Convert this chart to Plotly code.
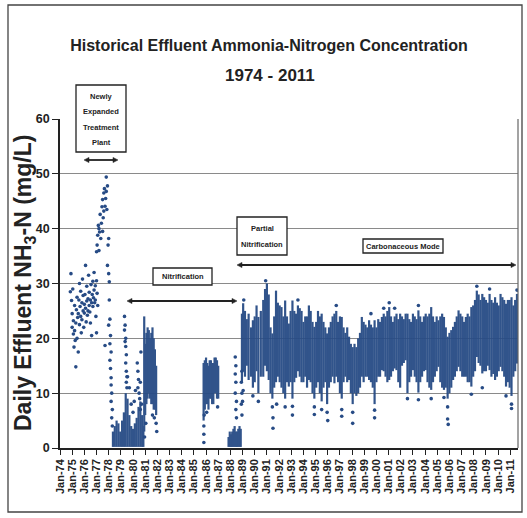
import plotly.graph_objects as go

# ---------------- data ----------------
# individual scattered daily points: decimal year, NH3-N (mg/L)
pt_t = [1974.85, 1974.9, 1974.95, 1975.0, 1975.0, 1975.05, 1975.1, 1975.1, 1975.15, 1975.2,
        1975.2, 1975.25, 1975.3, 1975.3, 1975.35, 1975.4, 1975.4, 1975.45, 1975.5, 1975.5,
        1975.55, 1975.6, 1975.6, 1975.65, 1975.7, 1975.7, 1975.75, 1975.8, 1975.8, 1975.85,
        1975.9, 1975.9, 1975.95, 1976.0, 1976.0, 1976.05, 1976.1, 1976.1, 1976.15, 1976.2,
        1976.2, 1976.25, 1976.3, 1976.3, 1976.35, 1976.4, 1976.4, 1976.45, 1976.5, 1976.5,
        1976.55, 1976.6, 1976.6, 1976.65, 1976.7, 1976.7, 1976.75, 1976.8, 1976.8, 1976.85,
        1976.9, 1976.9, 1976.95, 1977.0, 1977.0, 1977.05, 1977.1,
        1977.0, 1977.05, 1977.1, 1977.15, 1977.2, 1977.2, 1977.25, 1977.3, 1977.35, 1977.4,
        1977.45, 1977.5, 1977.5, 1977.55, 1977.6, 1977.6, 1977.65, 1977.7, 1977.75, 1977.8,
        1977.8, 1977.85, 1977.9, 1977.95, 1978.0, 1977.9, 1978.0, 1978.05,
        1978.05, 1978.1, 1978.0, 1978.15, 1978.1, 1978.2, 1978.1, 1977.7, 1978.15, 1978.2,
        1978.2, 1978.25, 1978.2, 1978.3, 1978.25, 1978.3,
        1979.3, 1979.35, 1979.3, 1979.4, 1979.35, 1979.4, 1979.45, 1979.4, 1979.45, 1979.5,
        1979.45, 1979.5, 1979.55, 1979.7, 1979.85, 1980.0, 1980.1, 1980.2,
        1980.35, 1980.4, 1980.45, 1980.4, 1980.5, 1980.55, 1980.6, 1980.65, 1980.7, 1980.6,
        1980.95, 1981.05, 1981.9, 1981.95, 1981.6, 1981.75,
        1985.82, 1985.82, 1985.82, 1985.85, 1986.05, 1986.95,
        1988.4, 1988.45, 1988.4, 1988.45, 1988.4, 1988.5, 1988.45, 1988.5,
        1988.95, 1988.9, 1988.95, 1988.9, 1988.95,
        1989.0, 1989.05, 1989.85, 1990.3, 1991.45, 1991.5, 1991.5, 1991.8, 1992.5, 1993.1,
        1993.1, 1994.9, 1994.9, 1995.5, 1995.95, 1996.0, 1997.15, 1997.15, 1998.05, 1998.05,
        1999.85, 1999.85, 2002.55, 2003.45, 2004.5, 2005.55, 2005.85, 2005.85, 2005.9, 2007.8,
        2008.7, 2010.65, 2011.1, 2011.1,
        1989.1, 1990.9, 1993.55, 1996.7, 1999.55, 2000.6, 2001.05, 2001.5, 2003.45, 2008.25,
        2009.3, 2011.55]
pt_v = [28.5, 31.8, 26.9, 24.5, 22.0, 29.0, 20.8, 23.2, 18.4, 21.4,
        26.0, 19.6, 22.8, 14.8, 25.2, 27.5, 20.0, 23.8, 17.5, 24.5,
        27.0, 30.0, 22.5, 25.8, 24.0, 28.6, 21.0, 26.5, 23.4, 30.8,
        25.0, 27.8, 22.0, 26.2, 24.6, 28.0, 33.3, 25.5, 23.0, 26.8,
        29.5, 24.2, 27.2, 25.0, 31.5, 26.0, 28.4, 24.8, 27.0, 22.8,
        29.8, 26.5, 20.5, 28.0, 30.4, 25.8, 27.4, 32.0, 28.8, 26.5,
        29.6, 27.0, 24.0, 30.5, 21.0, 28.2, 26.0,
        35.8, 37.0, 38.8, 40.6, 40.0, 36.0, 39.4, 42.6, 38.2, 41.0,
        44.0, 39.5, 45.3, 42.0, 46.5, 43.2, 47.3, 44.1, 45.5, 49.4,
        46.8, 43.5, 47.8, 37.0, 38.2, 33.3, 31.8, 30.3,
        27.0, 23.5, 22.4, 20.5, 19.0, 17.5, 16.0, 18.7, 14.5, 12.8,
        11.5, 10.0, 8.5, 7.0, 5.5, 4.0,
        24.0, 22.4, 21.5, 20.0, 19.4, 18.5, 17.0, 15.5, 14.0, 13.0,
        12.0, 11.0, 13.0, 11.0, 8.0, 6.5, 8.5, 10.5,
        15.5, 14.0, 12.5, 11.0, 10.0, 9.0, 12.0, 17.5, 8.0, 7.0,
        2.0, 4.5, 4.5, 3.0, 6.0, 5.5,
        4.0, 2.5, 1.0, 6.0, 6.5, 7.5,
        16.6, 15.0, 13.5, 12.0, 10.0, 8.5, 7.0, 5.5,
        14.0, 12.0, 10.0, 8.0, 6.0,
        8.5, 10.5, 9.5, 8.5, 7.5, 5.5, 3.6, 8.0, 7.5, 7.6,
        6.0, 7.5, 6.1, 7.0, 6.5, 5.0, 7.0, 5.8, 6.5, 4.5,
        6.9, 5.5, 9.0, 8.8, 9.0, 9.2, 7.5, 5.3, 4.3, 9.8,
        11.0, 9.5, 8.0, 7.2,
        27.0, 30.5, 27.0, 26.0, 24.5, 25.5, 26.5, 25.5, 26.0, 29.5,
        29.0, 28.8]

# dense periods: upper / lower envelope of the daily values at each time
band_t = [1978.35, 1978.5, 1978.65, 1978.8, 1978.95, 1979.1, 1979.25, 1979.4, 1979.55, 1979.7,
          1979.85, 1980.0, 1980.15, 1980.3, 1980.45, 1980.6, 1980.75, 1980.85,
          1980.92, 1981.0, 1981.1, 1981.2, 1981.3, 1981.4, 1981.5, 1981.6, 1981.7, 1981.8, 1981.9,
          1985.8, 1985.9, 1986.0, 1986.1, 1986.2, 1986.3, 1986.4, 1986.5, 1986.6, 1986.7,
          1986.8, 1986.9, 1987.0,
          1987.85, 1987.95, 1988.05, 1988.15, 1988.25, 1988.35, 1988.45, 1988.55, 1988.65,
          1988.75, 1988.85,
          1988.95, 1989.05, 1989.2, 1989.35, 1989.5, 1989.7, 1989.85, 1990.0, 1990.15, 1990.3,
          1990.5, 1990.7, 1990.85, 1991.0, 1991.15, 1991.3, 1991.45, 1991.6, 1991.75, 1991.9,
          1992.05, 1992.2, 1992.35, 1992.5, 1992.65, 1992.8, 1992.95, 1993.1, 1993.25, 1993.4,
          1993.55, 1993.7, 1993.85, 1994.0, 1994.15, 1994.3, 1994.45, 1994.6, 1994.75, 1994.9,
          1995.05, 1995.2, 1995.35, 1995.5, 1995.65, 1995.8, 1995.95, 1996.1, 1996.25, 1996.4,
          1996.55, 1996.7, 1996.85, 1997.0, 1997.15, 1997.3, 1997.45, 1997.6, 1997.75, 1997.9,
          1998.05, 1998.2, 1998.35, 1998.5, 1998.65, 1998.8, 1998.95, 1999.1, 1999.25, 1999.4,
          1999.55, 1999.7, 1999.85, 2000.0, 2000.15, 2000.3, 2000.45, 2000.6, 2000.75, 2000.9,
          2001.05, 2001.2, 2001.35, 2001.5, 2001.65, 2001.8, 2001.95, 2002.1, 2002.25, 2002.4,
          2002.55, 2002.7, 2002.85, 2003.0, 2003.15, 2003.3, 2003.45, 2003.6, 2003.75, 2003.9,
          2004.05, 2004.2, 2004.35, 2004.5, 2004.65, 2004.8, 2004.95, 2005.1, 2005.25, 2005.4,
          2005.55, 2005.7, 2005.85, 2006.0, 2006.15, 2006.3, 2006.45, 2006.6, 2006.75, 2006.9,
          2007.05, 2007.2, 2007.35, 2007.5, 2007.65, 2007.8, 2007.95, 2008.1, 2008.25, 2008.4,
          2008.55, 2008.7, 2008.85, 2009.0, 2009.15, 2009.3, 2009.45, 2009.6, 2009.75, 2009.9,
          2010.05, 2010.2, 2010.35, 2010.5, 2010.65, 2010.8, 2010.95, 2011.1, 2011.25, 2011.4,
          2011.55]
band_hi = [3.0, 4.0, 5.0, 4.5, 3.0, 5.0, 6.5, 10.0, 9.0, 6.0,
           4.0, 3.5, 4.5, 5.5, 7.5, 8.5, 6.0, 4.0,
           24.0, 19.0, 21.0, 22.0, 21.5, 20.0, 21.0, 22.0, 20.0, 18.0, 15.0,
           15.5, 16.0, 16.5, 15.5, 15.0, 16.0, 16.0, 15.5, 15.5, 16.5,
           16.5, 16.0, 15.0,
           2.0, 3.0, 2.5, 3.0, 3.5, 4.0, 3.0, 3.0, 3.5,
           4.0, 3.5,
           24.5, 26.4, 25.0, 23.5, 24.5, 22.0, 23.3, 24.0, 26.0, 23.9,
           25.0, 27.0, 29.0, 30.0, 28.0, 22.0, 20.9, 24.0, 28.7, 26.5,
           26.0, 25.7, 24.0, 26.9, 24.0, 22.7, 25.0, 26.9, 25.0, 24.5,
           26.0, 25.5, 25.0, 23.0, 24.0, 24.0, 26.0, 25.0, 23.0, 22.1,
           23.0, 25.0, 24.0, 24.5, 23.0, 22.0, 20.9, 22.0, 23.0, 24.0,
           24.5, 25.0, 23.0, 24.0, 23.9, 22.0, 21.0, 22.0, 20.3, 19.0,
           18.4, 19.0, 18.4, 20.0, 21.0, 23.9, 23.0, 22.5, 22.0, 23.3,
           22.5, 22.0, 23.3, 22.0, 23.5, 23.0, 23.9, 24.5, 24.0, 25.0,
           25.7, 24.0, 23.0, 24.0, 24.5, 23.5, 24.5, 24.0, 23.5, 24.5,
           24.5, 23.5, 23.0, 24.5, 24.0, 23.5, 25.1, 24.0, 23.0, 24.0,
           24.5, 24.0, 24.5, 25.7, 24.0, 23.0, 24.0, 23.3, 24.0, 24.5,
           23.9, 22.0, 20.3, 21.0, 21.5, 22.1, 23.0, 24.0, 25.1, 24.5,
           24.0, 23.0, 23.9, 24.5, 24.0, 25.7, 26.0, 27.0, 28.7, 28.0,
           27.0, 28.1, 27.5, 27.0, 26.5, 28.1, 27.0, 26.5, 27.5, 26.5,
           26.0, 28.1, 27.5, 27.0, 26.3, 27.0, 27.0, 27.5, 26.0, 27.0,
           28.1]
band_lo = [0.2, 0.2, 0.2, 0.2, 0.2, 0.2, 0.2, 0.2, 0.2, 0.2,
           0.2, 0.2, 0.2, 0.2, 0.2, 0.2, 0.2, 0.2,
           3.0, 6.0, 8.0, 9.0, 10.0, 9.0, 8.0, 8.0, 7.0, 7.0, 6.0,
           5.0, 7.0, 8.0, 8.0, 7.0, 9.0, 9.0, 8.0, 8.0, 10.0,
           10.0, 9.0, 9.0,
           0.2, 0.2, 0.2, 0.2, 0.2, 0.2, 0.2, 0.2, 0.2,
           0.2, 0.2,
           12.0, 14.0, 13.0, 15.0, 12.4, 13.0, 11.0, 12.0, 14.0, 10.0,
           13.0, 13.0, 15.0, 14.0, 12.4, 10.0, 9.0, 11.0, 12.0, 13.0,
           12.0, 11.0, 10.0, 9.0, 12.0, 11.2, 12.0, 9.0, 12.0, 12.8,
           14.0, 13.0, 12.0, 12.0, 13.0, 11.0, 12.4, 12.0, 10.0, 9.0,
           11.0, 12.0, 10.0, 8.5, 11.0, 12.0, 8.0, 11.0, 12.0, 13.0,
           11.8, 13.0, 12.0, 10.0, 9.0, 12.0, 13.0, 12.0, 12.4, 10.0,
           8.0, 10.0, 9.5, 10.0, 11.0, 13.0, 12.0, 13.0, 13.0, 12.4,
           12.0, 11.0, 8.0, 12.0, 13.0, 13.0, 14.2, 14.0, 13.0, 12.0,
           12.4, 13.0, 14.0, 14.5, 14.2, 12.0, 11.0, 15.0, 15.5, 16.0,
           10.0, 12.0, 13.0, 14.2, 13.0, 12.0, 10.1, 12.0, 13.0, 14.0,
           14.2, 12.0, 11.0, 10.6, 12.0, 13.0, 14.0, 14.8, 12.0, 11.0,
           10.6, 11.0, 9.0, 10.0, 11.0, 12.4, 13.0, 14.0, 14.8, 14.0,
           13.0, 13.0, 13.0, 12.0, 12.0, 11.2, 13.0, 14.0, 16.6, 15.5,
           15.0, 13.6, 14.0, 14.0, 15.0, 14.2, 13.0, 13.5, 12.4, 13.0,
           14.0, 14.8, 14.0, 13.0, 11.2, 12.0, 11.0, 9.5, 13.0, 14.0,
           15.4]

tick_years = list(range(1974, 2012))
tick_labels = ["Jan-%02d" % (y % 100) for y in tick_years]
y_ticks = [0, 10, 20, 30, 40, 50, 60]

# ---------------- layout helpers (pixel -> paper) ----------------
L, R, T, B = 60, 518, 119, 448
W, H = R - L, B - T
def px(x):
    return (x - L) / W
def py(y):
    return (B - y) / H

BLUE = "#274b85"
SANS = "Liberation Sans, Arial, sans-serif"
INK = "#222"

# build vertical segments for the dense periods
seg_x, seg_y = [], []
for t, lo, hi in zip(band_t, band_lo, band_hi):
    seg_x += [t, t, None]
    seg_y += [lo, hi, None]

fig = go.Figure()
fig.add_trace(go.Scatter(x=seg_x, y=seg_y, mode="lines",
                         line=dict(color=BLUE, width=2.2), opacity=0.95, hoverinfo="skip",
                         showlegend=False))
fig.add_trace(go.Scatter(x=pt_t, y=pt_v, mode="markers",
                         marker=dict(color=BLUE, size=3.6), showlegend=False))

ann = []
shapes = []
# second title line
ann.append(dict(text="<b>1974 - 2011</b>", x=px(270), y=py(76),
                font=dict(family=SANS, size=17, color=INK)))
# y axis title
ann.append(dict(text="<b>Daily Effluent NH<sub>3</sub>-N (mg/L)</b>", x=px(24), y=py(283),
                textangle=-90, font=dict(family=SANS, size=23, color=INK)))

def box(x0, y0, x1, y1):
    shapes.append(dict(type="rect", xref="paper", yref="paper",
                       x0=px(x0), x1=px(x1), y0=py(y0), y1=py(y1),
                       line=dict(color=INK, width=1.3), fillcolor="white", layer="above"))

def label(txt, x, y, size=7.5):
    ann.append(dict(text="<b>%s</b>" % txt, x=px(x), y=py(y),
                    font=dict(family=SANS, size=size, color=INK)))

def arrow(x0, x1, y, head=5, half=2.6):
    shapes.append(dict(type="line", xref="paper", yref="paper",
                       x0=px(x0 + head - 1), x1=px(x1 - head + 1), y0=py(y), y1=py(y),
                       line=dict(color=INK, width=1.8), layer="above"))
    for tip, back in ((x0, x0 + head), (x1, x1 - head)):
        path = "M %.5f,%.5f L %.5f,%.5f L %.5f,%.5f Z" % (
            px(tip), py(y), px(back), py(y - half), px(back), py(y + half))
        shapes.append(dict(type="path", xref="paper", yref="paper", path=path,
                           fillcolor=INK, line=dict(color=INK, width=0.5), layer="above"))

box(76, 85, 126, 152)
label("Newly", 101, 96)
label("Expanded", 101, 111)
label("Treatment", 101, 127)
label("Plant", 101, 142)
arrow(84, 118, 160)

box(153, 268, 212, 285)
label("Nitrification", 182.5, 276.5)
arrow(127, 237, 301)

box(237, 217, 287, 255)
label("Partial", 262, 228)
label("Nitrification", 262, 244)

box(363, 239, 443, 253)
label("Carbonaceous Mode", 403, 246)
arrow(237, 516, 265)

# right border of the plot area (thin grey)
shapes.append(dict(type="line", xref="paper", yref="paper", x0=1, x1=1, y0=0, y1=1,
                   line=dict(color="#666", width=1.2)))
# outer frame
shapes.append(dict(type="rect", xref="paper", yref="paper",
                   x0=px(8), x1=px(522), y0=py(512), y1=py(5),
                   line=dict(color="#444", width=1.3), fillcolor="rgba(0,0,0,0)", layer="below"))

for a in ann:
    a.setdefault("xref", "paper")
    a.setdefault("yref", "paper")
    a.setdefault("showarrow", False)
    a.setdefault("xanchor", "center")
    a.setdefault("yanchor", "middle")

fig.update_layout(
    width=527, height=518,
    margin=dict(l=L, r=527 - R, t=T, b=518 - B),
    paper_bgcolor="white", plot_bgcolor="white",
    title=dict(text="<b>Historical Effluent Ammonia-Nitrogen Concentration</b>",
               x=269 / 527, xanchor="center", y=1 - 45 / 518, yanchor="middle",
               font=dict(family=SANS, size=16, color=INK)),
    annotations=ann, shapes=shapes, showlegend=False,
    xaxis=dict(range=[1974.0, 1974.0 + W / 12.17], tickmode="array", tickvals=tick_years,
               ticktext=tick_labels, tickangle=-90, showgrid=False, zeroline=False,
               showline=True, linecolor=INK, linewidth=1.5, ticks="outside", ticklen=5,
               tickcolor=INK, tickfont=dict(family=SANS, size=11, color=INK, weight="bold")),
    yaxis=dict(range=[0, 60], tickvals=y_ticks, showgrid=True, gridcolor="#8a8a8a", gridwidth=1.3,
               zeroline=False, showline=True, linecolor=INK, linewidth=1.5,
               ticks="outside", ticklen=6, tickcolor=INK,
               tickfont=dict(family=SANS, size=12.5, color=INK, weight="bold")),
)

fig.write_html("out.html")
